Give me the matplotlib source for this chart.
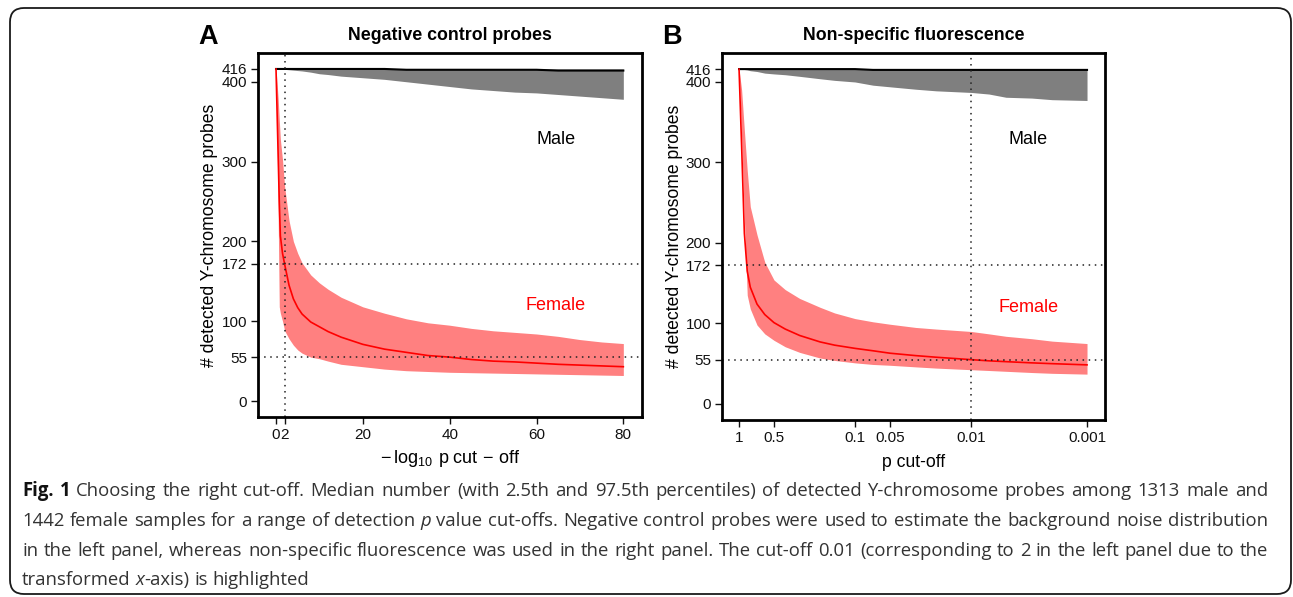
import numpy as np
import matplotlib

matplotlib.use("Agg")
import matplotlib.pyplot as plt
from matplotlib.patches import FancyBboxPatch

plt.rcParams.update({
    "font.family": ["Liberation Sans", "DejaVu Sans"],
    "mathtext.fontset": "custom",
    "mathtext.rm": "Liberation Sans",
    "mathtext.it": "Liberation Sans:italic",
    "mathtext.bf": "Liberation Sans:bold",
})

# ---- panel A: negative control probes, x = -log10 p cut-off
neg_x = [0, 0.25, 0.5, 0.75, 1, 1.5, 2, 3, 4, 5, 6, 8, 10, 12, 15, 20, 25,
         30, 35, 40, 45, 50, 55, 60, 65, 70, 75, 80]
neg_female_med = [416, 361, 306, 250, 207, 185, 171, 145, 128, 117, 109, 99, 93,
                  87, 80, 71, 65, 61, 57, 55, 52, 50, 49, 47.5, 46, 45, 44, 43]
neg_female_lo = [416, 330, 230, 118, 110, 100, 88, 78, 70, 64, 60, 55, 53, 50,
                 46, 43, 40, 38, 37, 36, 35.5, 35, 34.5, 34, 33.5, 33, 32.5, 32]
neg_female_hi = [416, 398, 378, 352, 328, 302, 268, 226, 200, 185, 173, 158, 148,
                 140, 130, 118, 110, 103, 98, 95, 91, 88, 86, 84, 81, 77, 74, 72]
neg_male_med = [416, 416, 416, 416, 416, 416, 416, 416, 416, 416, 416, 416, 416,
                416, 416, 416, 416, 415, 415, 415, 415, 415, 415, 415, 414, 414, 414, 414]
neg_male_lo = [416, 416, 416, 416, 416, 416, 415.5, 415, 414.5, 414, 413.5, 412,
               410, 409, 407, 405, 403, 400, 397, 394, 391, 389, 387, 386, 384,
               382, 380, 378]
neg_male_hi = [416] * len(neg_x)

# ---- panel B: non-specific fluorescence, p cut-off
nsf_p = [1, 0.95, 0.9, 0.85, 0.8, 0.7, 0.6, 0.5, 0.4, 0.3, 0.2, 0.15, 0.1, 0.07,
         0.05, 0.03, 0.02, 0.01, 0.007, 0.005, 0.003, 0.002, 0.001]
nsf_female_med = [416, 320, 212, 165, 145, 124, 111, 101, 93, 85, 77, 73, 69, 66,
                  63, 60, 58, 55, 53.5, 52.5, 51, 50, 48.5]
nsf_female_lo = [416, 330, 230, 135, 118, 98, 87, 79, 71, 64, 57, 54, 51, 49, 48,
                 46, 44.5, 42.5, 41.5, 40.5, 39, 38, 37]
nsf_female_hi = [416, 390, 340, 290, 245, 210, 176, 154, 142, 131, 120, 113, 106,
                 102, 99, 95, 93, 90, 87, 84, 81, 78, 75]
nsf_male_med = [416, 416, 416, 416, 416, 416, 416, 416, 416, 416, 416, 416, 416,
                415, 415, 415, 415, 415, 415, 415, 415, 415, 415]
nsf_male_lo = [416, 416, 415.5, 415, 414, 413, 411, 410, 409, 407, 404, 402, 400,
               396, 394, 391, 389, 387, 385, 381, 380, 378, 377]
nsf_male_hi = [416] * len(nsf_p)

y_ticks = [0, 55, 100, 172, 200, 300, 400, 416]
neg_xticks = [0, 2, 20, 40, 60, 80]
nsf_xtick_p = [1, 0.5, 0.1, 0.05, 0.01, 0.001]
nsf_xtick_labels = ["1", "0.5", "0.1", "0.05", "0.01", "0.001"]
ref_y = [172, 55]

RED = "#FF0000"
PINK = "#FF8080"
GRAY = "#7F7F7F"

W, H = 1293, 597
fig = plt.figure(figsize=(W / 100, H / 100), dpi=100)

# background canvas in pixel units (caption box, letters, caption text)
bg = fig.add_axes([0, 0, 1, 1])
bg.set_xlim(0, W)
bg.set_ylim(H, 0)
bg.axis("off")
bg.add_patch(FancyBboxPatch((10, 8), 1281, 586,
                            boxstyle="round,pad=0,rounding_size=14",
                            fc="none", ec="#1a1a1a", lw=1.3))


def panel(rect, x, med_f, lo_f, hi_f, med_m, lo_m, hi_m, xlim, vline, lab_x):
    ax = fig.add_axes(rect)
    ax.fill_between(x, lo_m, hi_m, color=GRAY, lw=0)
    ax.plot(x, med_m, color="black", lw=1.5)
    ax.fill_between(x, lo_f, hi_f, color=PINK, lw=0)
    ax.plot(x, med_f, color=RED, lw=1.2)
    for yy in ref_y:
        ax.axhline(yy, color="#222222", lw=1.1, ls=(0, (1, 3)))
    ax.axvline(vline, color="#222222", lw=1.1, ls=(0, (1, 3)))
    ax.set_xlim(*xlim)
    ax.set_ylim(-20, 436)
    ax.set_yticks(y_ticks)
    ax.set_yticklabels([str(v) for v in y_ticks])
    for s in ax.spines.values():
        s.set_linewidth(2)
    ax.tick_params(direction="out", length=5, width=1, labelsize=11,
                   pad=3, colors="#111111")
    ax.set_ylabel("# detected Y-chromosome probes", fontsize=12.7)
    ax.yaxis.set_label_coords(-0.125, 0.5)
    ax.yaxis.label.set_va("center")
    ax.text(lab_x, 348 / 456, "Male", transform=ax.transAxes,
            ha="center", va="center", fontsize=13)
    ax.text(lab_x, 140 / 456, "Female", transform=ax.transAxes,
            ha="center", va="center", fontsize=13, color=RED)
    return ax


axA = panel([258 / W, 1 - 417 / H, 384 / W, 364 / H], neg_x,
            neg_female_med, neg_female_lo, neg_female_hi,
            neg_male_med, neg_male_lo, neg_male_hi, (-4.15, 84.3), 2, 0.775)
axA.set_xticks(neg_xticks)
axA.set_xticklabels([str(v) for v in neg_xticks])
axA.set_xlabel(r"$-\,\log_{10}\;\mathrm{p\;cut}\,-\,\mathrm{off}$", fontsize=13)
axA.xaxis.set_label_coords(0.5, -0.113)
axA.xaxis.label.set_va("center")
axA.text(0.5, 1 + 18 / 364, "Negative control probes", transform=axA.transAxes,
         ha="center", va="center", fontsize=12.8, fontweight="bold")

nsf_x = -np.log10(nsf_p)
axB = panel([722 / W, 1 - 420 / H, 383 / W, 367 / H], nsf_x,
            nsf_female_med, nsf_female_lo, nsf_female_hi,
            nsf_male_med, nsf_male_lo, nsf_male_hi, (-0.147, 3.155), 2, 0.80)
axB.set_xticks(-np.log10(nsf_xtick_p))
axB.set_xticklabels(nsf_xtick_labels)
axB.set_xlabel("p cut-off", fontsize=12.7)
axB.xaxis.set_label_coords(0.5, -0.115)
axB.xaxis.label.set_va("center")
axB.text(0.5, 1 + 18 / 367, "Non-specific fluorescence", transform=axB.transAxes,
         ha="center", va="center", fontsize=12.8, fontweight="bold")

bg.text(208, 37, "A", ha="center", va="center", fontsize=19.5, fontweight="bold")
bg.text(672, 37, "B", ha="center", va="center", fontsize=19.5, fontweight="bold")

# caption: mixed bold / italic runs, justified like the journal layout
CAP_FONT = ["Open Sans", "DejaVu Sans"]
CAP_COLOR = "#333333"
caption = [
    [("Fig. 1", "bold", "normal"),
     (" Choosing the right cut-off. Median number (with 2.5th and 97.5th percentiles) "
      "of detected Y-chromosome probes among 1313 male and", "normal", "normal")],
    [("1442 female samples for a range of detection ", "normal", "normal"),
     ("p", "normal", "italic"),
     (" value cut-offs. Negative control probes were used to estimate the background "
      "noise distribution", "normal", "normal")],
    [("in the left panel, whereas non-specific fluorescence was used in the right "
      "panel. The cut-off 0.01 (corresponding to 2 in the left panel due to the",
      "normal", "normal")],
    [("transformed ", "normal", "normal"), ("x", "normal", "italic"),
     ("-axis) is highlighted", "normal", "normal")],
]
cap_y = [491, 521, 551, 580]
cap_x0, cap_x1 = 22, 1268

fig.canvas.draw()
renderer = fig.canvas.get_renderer()


def width_of(s, weight, style, size):
    # measure with guard characters so leading/trailing spaces count
    t = bg.text(0, 0, "|" + s + "|", fontsize=size, family=CAP_FONT,
                fontweight=weight, fontstyle=style)
    g = bg.text(0, 0, "||", fontsize=size, family=CAP_FONT,
                fontweight=weight, fontstyle=style)
    w = t.get_window_extent(renderer).width - g.get_window_extent(renderer).width
    t.remove()
    g.remove()
    return w


def words_of(line):
    words = [[]]
    for s, wt, st in line:
        for i, part in enumerate(s.split(" ")):
            if i > 0:
                words.append([])
            if part:
                words[-1].append((part, wt, st))
    return [w for w in words if w]


# font size chosen so the longest line fits with normal word spacing
base = 11.0
longest = max(sum(width_of(s, wt, st, base) for s, wt, st in ln) for ln in caption)
cap_size = base * (cap_x1 - cap_x0) / longest * 0.995
space_w = width_of(" ", "normal", "normal", cap_size)

for n, (line, yy) in enumerate(zip(caption, cap_y)):
    words = words_of(line)
    widths = [sum(width_of(s, wt, st, cap_size) for s, wt, st in w) for w in words]
    if n < len(caption) - 1:
        gap = (cap_x1 - cap_x0 - sum(widths)) / (len(words) - 1)
    else:
        gap = space_w
    xx = cap_x0
    for w, ww in zip(words, widths):
        fx = xx
        for s, weight, style in w:
            bg.text(fx, yy, s, fontsize=cap_size, family=CAP_FONT, fontweight=weight,
                    fontstyle=style,
                    color="#111111" if weight == "bold" else CAP_COLOR,
                    ha="left", va="center")
            fx += width_of(s, weight, style, cap_size)
        xx += ww + gap

fig.savefig("out.png", dpi=100)
